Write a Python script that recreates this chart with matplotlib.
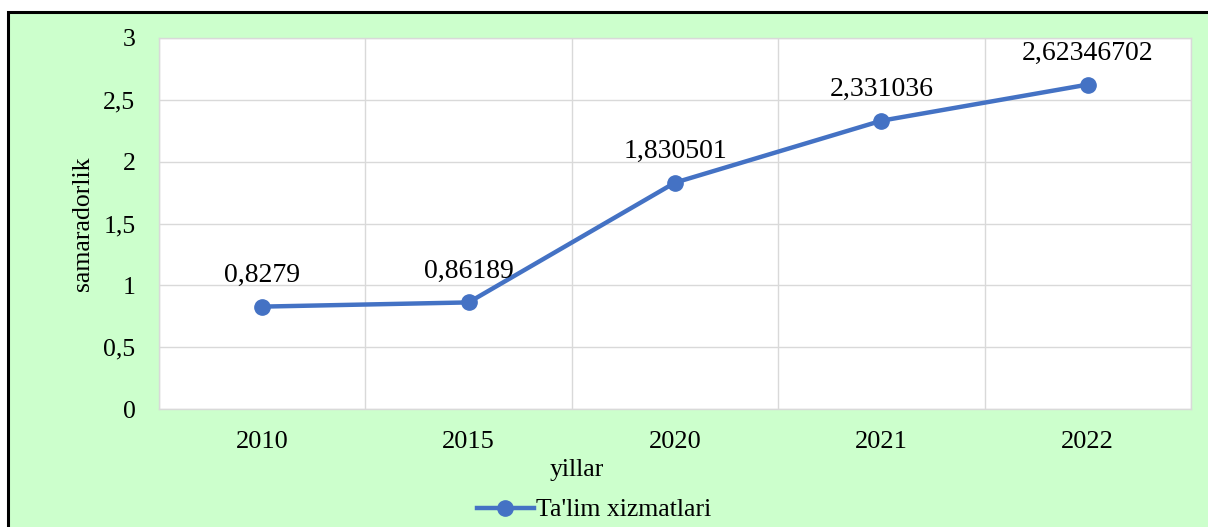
import matplotlib.pyplot as plt
from matplotlib.patches import Rectangle
from matplotlib.ticker import FuncFormatter, FixedLocator

years = ["2010", "2015", "2020", "2021", "2022"]
values = [0.8279, 0.86189, 1.830501, 2.331036, 2.62346702]
value_labels = ["0,8279", "0,86189", "1,830501", "2,331036", "2,62346702"]
series_name = "Ta'lim xizmatlari"

plt.rcParams['font.family'] = ['Liberation Serif', 'DejaVu Serif']

fig = plt.figure(figsize=(12.08, 5.27), dpi=100)
fig.patch.set_facecolor('white')

# green chart area with black frame (right and bottom run off the image)
bg = Rectangle((8 / 1208, -0.05), 1.1, (527 - 12) / 527 + 0.05,
               transform=fig.transFigure, facecolor='#CCFFCC',
               edgecolor='black', linewidth=2.2, zorder=-10)
fig.patches.append(bg)

ax = fig.add_axes([159 / 1208, (527 - 409) / 527, (1191 - 159) / 1208, (409 - 38) / 527])
ax.set_facecolor('white')

x = list(range(len(years)))
line, = ax.plot(x, values, color='#4472C4', linewidth=3.2, marker='o',
                markersize=11, label=series_name, zorder=3)

for xi, v, lab in zip(x, values, value_labels):
    ax.annotate(lab, (xi, v), xytext=(0, 18), textcoords='offset points',
                ha='center', va='baseline', fontsize=20)

ax.set_xlim(-0.5, len(years) - 0.5)
ax.set_ylim(0, 3)
ax.set_xticks(x)
ax.set_xticklabels(years, fontsize=19)
ax.xaxis.set_minor_locator(FixedLocator([i - 0.5 for i in range(len(years) + 1)]))
ax.set_yticks([0, 0.5, 1, 1.5, 2, 2.5, 3])
ax.yaxis.set_major_formatter(FuncFormatter(lambda v, p: ('%g' % v).replace('.', ',')))
for t in ax.get_yticklabels():
    t.set_fontsize(18.5)

ax.tick_params(axis='both', which='both', length=0)
ax.tick_params(axis='x', pad=16)
ax.tick_params(axis='y', pad=17)

ax.grid(axis='y', which='major', color='#D9D9D9', linewidth=1)
ax.grid(axis='x', which='minor', color='#D9D9D9', linewidth=1)
ax.set_axisbelow(True)
for s in ax.spines.values():
    s.set_color('#D9D9D9')
    s.set_linewidth(1)

# the axis title sits left of centre in the original
ax.set_xlabel('yillar', fontsize=18.5, labelpad=4, x=0.405)
ax.set_ylabel('samaradorlik', fontsize=18.5, labelpad=7)

fig.legend(handles=[line], loc='center', bbox_to_anchor=(0.492, (527 - 510) / 527),
           frameon=False, fontsize=18.5, handlelength=2.2, handletextpad=0.1)

plt.savefig('out.png', dpi=100, facecolor=fig.get_facecolor())
